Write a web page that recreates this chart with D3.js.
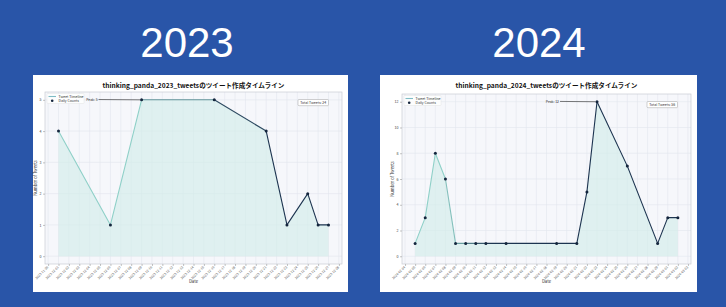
<!DOCTYPE html>
<html><head><meta charset="utf-8">
<script src="https://cdn.jsdelivr.net/npm/d3@7"></script>
<style>
html,body{margin:0;padding:0;background:#2955a8;}
svg{display:block;}
</style></head>
<body>
<svg id="chart" width="726" height="307"></svg>
<script>
// ---- data ----
const years = ["2023", "2024"];
const titles = ["thinking_panda_2023_tweetsのツイート作成タイムライン", "thinking_panda_2024_tweetsのツイート作成タイムライン"];
const dates2023 = ["2023-12-01","2023-12-06","2023-12-09","2023-12-16","2023-12-21","2023-12-23","2023-12-25","2023-12-26","2023-12-27"];
const counts2023 = [4, 1, 5, 5, 4, 1, 2, 1, 1];
const dates2024 = ["2024-02-05","2024-02-06","2024-02-07","2024-02-08","2024-02-09","2024-02-10","2024-02-11","2024-02-12","2024-02-14","2024-02-19","2024-02-21","2024-02-22","2024-02-23","2024-02-26","2024-02-29","2024-03-01","2024-03-02"];
const counts2024 = [1, 3, 8, 6, 1, 1, 1, 1, 1, 1, 1, 5, 12, 7, 1, 3, 3];
const yTicks2023 = [0, 1, 2, 3, 4, 5];
const yTicks2024 = [0, 2, 4, 6, 8, 10, 12];
const legendLabels = ["Tweet Timeline", "Daily Counts"];
const peakLabels = ["Peak: 5", "Peak: 12"];
const totalLabels = ["Total Tweets: 24", "Total Tweets: 56"];
const xLabel = "Date";
const yLabel = "Number of Tweets";

// ---- drawing ----
const svg = d3.select("#chart");
const parse = d3.timeParse("%Y-%m-%d");
const fmt = d3.timeFormat("%Y-%m-%d");
const FONT = "'Noto Sans CJK JP','Noto Sans',sans-serif";

const panels = [
  {year: years[0], title: titles[0], dates: dates2023, counts: counts2023, yTicks: yTicks2023,
   peak: peakLabels[0], total: totalLabels[0],
   box: {x: 33, y: 75, w: 315, h: 217}, ax: {l: 45, r: 342, t: 92, b: 264}, head: 187},
  {year: years[1], title: titles[1], dates: dates2024, counts: counts2024, yTicks: yTicks2024,
   peak: peakLabels[1], total: totalLabels[1],
   box: {x: 380, y: 75, w: 317, h: 217}, ax: {l: 402, r: 691, t: 94, b: 264}, head: 539}
];

const teal = "#8fd0c8", navy = "#1d3450";

panels.forEach(p => {
  const g = svg.append("g");
  g.append("text").attr("x", p.head).attr("y", 57).attr("text-anchor", "middle")
    .attr("font-family", "'Liberation Sans',Arial,sans-serif").attr("font-size", 42)
    .attr("fill", "#ffffff").text(p.year);
  g.append("rect").attr("x", p.box.x).attr("y", p.box.y).attr("width", p.box.w).attr("height", p.box.h).attr("fill", "#ffffff");

  const data = p.dates.map((d, i) => ({date: parse(d), v: p.counts[i]}));
  const t0 = data[0].date, t1 = data[data.length - 1].date;
  const span = t1 - t0;
  const x = d3.scaleTime().domain([new Date(+t0 - span * 0.05), new Date(+t1 + span * 0.05)]).range([p.ax.l, p.ax.r]);
  const yMax = d3.max(p.yTicks);
  const y = d3.scaleLinear().domain([-yMax * 0.05, yMax * 1.05]).range([p.ax.b, p.ax.t]);

  g.append("rect").attr("x", p.ax.l).attr("y", p.ax.t).attr("width", p.ax.r - p.ax.l).attr("height", p.ax.b - p.ax.t)
    .attr("fill", "#f6f7fb");

  const xTicks = d3.timeDay.range(d3.timeDay.offset(t0, -1), d3.timeDay.offset(t1, 2)).filter(d => x(d) >= p.ax.l && x(d) <= p.ax.r);

  g.append("g").selectAll("line").data(xTicks).join("line")
    .attr("x1", d => x(d)).attr("x2", d => x(d)).attr("y1", p.ax.t).attr("y2", p.ax.b)
    .attr("stroke", "#e2e5ee").attr("stroke-width", 0.6);
  g.append("g").selectAll("line").data(p.yTicks).join("line")
    .attr("x1", p.ax.l).attr("x2", p.ax.r).attr("y1", d => y(d)).attr("y2", d => y(d))
    .attr("stroke", "#e2e5ee").attr("stroke-width", 0.6);

  const area = d3.area().x(d => x(d.date)).y0(y(0)).y1(d => y(d.v));
  g.append("path").datum(data).attr("d", area).attr("fill", "#d3ecea").attr("fill-opacity", 0.65);

  const n = data.length - 1;
  const ramp = d3.interpolateRgb(teal, navy);
  for (let i = 0; i < n; i++) {
    const t = n > 1 ? i / (n - 1) : 0;
    const k = Math.max(0, Math.min(1, (t - 0.17) / 0.3));
    g.append("line")
      .attr("x1", x(data[i].date)).attr("y1", y(data[i].v))
      .attr("x2", x(data[i + 1].date)).attr("y2", y(data[i + 1].v))
      .attr("stroke", ramp(k)).attr("stroke-width", 1.1).attr("stroke-linecap", "round");
  }
  g.append("g").selectAll("circle").data(data).join("circle")
    .attr("cx", d => x(d.date)).attr("cy", d => y(d.v)).attr("r", 1.5).attr("fill", "#14253d");

  g.append("rect").attr("x", p.ax.l).attr("y", p.ax.t).attr("width", p.ax.r - p.ax.l).attr("height", p.ax.b - p.ax.t)
    .attr("fill", "none").attr("stroke", "#c9ccd3").attr("stroke-width", 0.7);

  const yAxis = g.append("g").attr("transform", `translate(${p.ax.l},0)`)
    .call(d3.axisLeft(y).tickValues(p.yTicks).tickFormat(d3.format("d")).tickSize(2).tickPadding(1.5));
  yAxis.select(".domain").remove();
  yAxis.selectAll("line").attr("stroke", "#888").attr("stroke-width", 0.5);
  yAxis.selectAll("text").attr("font-family", FONT).attr("font-size", 3.6).attr("fill", "#444");

  const xAxis = g.append("g").attr("transform", `translate(0,${p.ax.b})`)
    .call(d3.axisBottom(x).tickValues(xTicks).tickFormat(fmt).tickSize(2));
  xAxis.select(".domain").remove();
  xAxis.selectAll("line").attr("stroke", "#888").attr("stroke-width", 0.5);
  xAxis.selectAll("text").attr("font-family", FONT).attr("font-size", 3.3).attr("fill", "#555")
    .attr("text-anchor", "end").attr("dy", 0).attr("y", 0)
    .attr("transform", "translate(0,3.5) rotate(-45)");

  g.append("text").attr("x", (p.ax.l + p.ax.r) / 2).attr("y", 283).attr("text-anchor", "middle")
    .attr("font-family", FONT).attr("font-size", 4.2).attr("fill", "#333").text(xLabel);
  g.append("text").attr("transform", `translate(${p.ax.l - 8.5},${(p.ax.t + p.ax.b) / 2}) rotate(-90)`)
    .attr("text-anchor", "middle").attr("font-family", FONT).attr("font-size", 4.2).attr("fill", "#333").text(yLabel);

  g.append("text").attr("x", (p.ax.l + p.ax.r) / 2).attr("y", 87.5).attr("text-anchor", "middle")
    .attr("font-family", FONT).attr("font-weight", "bold").attr("font-size", 6.6).attr("fill", "#111").text(p.title);

  const lg = g.append("g").attr("transform", `translate(${p.ax.l + 2},${p.ax.t + 1.5})`);
  lg.append("rect").attr("width", 37).attr("height", 10).attr("fill", "#ffffff").attr("fill-opacity", 0.8)
    .attr("stroke", "#dddddd").attr("stroke-width", 0.4).attr("rx", 0.8);
  lg.append("line").attr("x1", 1.5).attr("x2", 9).attr("y1", 3).attr("y2", 3).attr("stroke", "#7fbcc5").attr("stroke-width", 1.1);
  lg.append("circle").attr("cx", 5.2).attr("cy", 7.2).attr("r", 1.3).attr("fill", "#14253d");
  lg.selectAll("text.lt").data(legendLabels).join("text").attr("class", "lt")
    .attr("x", 11.5).attr("y", (d, i) => 4.3 + i * 4.2)
    .attr("font-family", FONT).attr("font-size", 3.5).attr("fill", "#333").text(d => d);

  const peakIdx = d3.maxIndex(data, d => d.v);
  const pk = data[peakIdx];
  const px = x(pk.date), py = y(pk.v);
  const tx = px - (p.year === "2023" ? 44 : 38);
  g.append("text").attr("x", tx).attr("y", py + 1.2).attr("text-anchor", "end")
    .attr("font-family", FONT).attr("font-size", 3.4).attr("fill", "#333").text(p.peak);
  g.append("line").attr("x1", tx + 1).attr("y1", py - 0.3).attr("x2", px - 1.5).attr("y2", py)
    .attr("stroke", "#222").attr("stroke-width", 0.6);

  const bw = 30.5, bh = 6.2;
  const bx = p.ax.r - 13.5 - bw, by = p.ax.t + 7.5;
  g.append("rect").attr("x", bx).attr("y", by).attr("width", bw).attr("height", bh).attr("rx", 1)
    .attr("fill", "#ffffff").attr("stroke", "#999").attr("stroke-width", 0.45);
  g.append("text").attr("x", bx + bw / 2).attr("y", by + 4.3).attr("text-anchor", "middle")
    .attr("font-family", FONT).attr("font-size", 3.5).attr("fill", "#333").text(p.total);
});
</script>
</body></html>
